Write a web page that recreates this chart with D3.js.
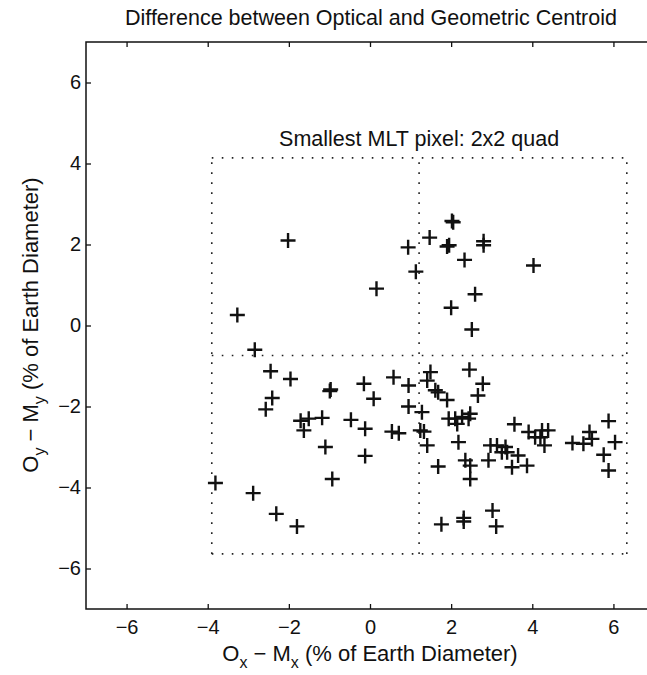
<!DOCTYPE html>
<html><head><meta charset="utf-8">
<script src="https://cdn.jsdelivr.net/npm/d3@7"></script>
<style>body{margin:0;background:#fff}svg{display:block}text{font-family:"Liberation Sans",Arial,sans-serif;fill:#111}</style>
</head><body>
<svg id="c" width="647" height="675"></svg>
<script>
const xVals = [-2.02,-3.27,-2.84,0.16,0.94,1.13,1.47,2.02,2.05,1.90,1.95,2.33,2.80,2.80,4.03,2.59,2.00,2.51,
 -2.45,-1.96,-0.99,-0.97,-2.41,-2.57,-1.71,-1.51,-1.63,-1.18,-0.47,-0.15,-0.12,-1.10,-0.93,-3.81,-2.88,-2.31,-1.80,-0.12,
 0.09,0.58,0.95,0.95,0.54,0.71,1.24,1.28,1.49,1.41,1.61,1.68,1.90,2.45,2.78,2.66,1.94,2.10,2.27,2.43,2.47,2.15,1.41,2.18,2.97,3.13,
 1.68,2.35,2.47,2.47,2.92,3.25,1.76,2.31,2.31,3.02,3.11,3.56,3.91,4.07,4.24,4.39,4.30,4.20,3.34,3.38,3.65,3.50,3.87,
 4.99,5.26,5.41,5.47,5.88,6.04,5.76,5.88,1.33];
const yVals = [2.10,0.26,-0.60,0.91,1.93,1.33,2.17,2.58,2.55,1.95,1.98,1.62,2.08,1.98,1.48,0.77,0.44,-0.10,
 -1.13,-1.32,-1.62,-1.58,-1.79,-2.07,-2.35,-2.30,-2.59,-2.28,-2.33,-1.44,-2.55,-3.00,-3.79,-3.89,-4.14,-4.65,-4.96,-3.22,
 -1.81,-1.28,-1.48,-2.00,-2.62,-2.66,-2.59,-2.14,-1.15,-1.36,-1.60,-1.65,-1.84,-1.09,-1.44,-1.73,-2.30,-2.30,-2.26,-2.30,-2.18,-2.43,-2.96,-2.88,-2.96,-2.96,
 -3.48,-3.33,-3.46,-3.79,-3.33,-3.13,-4.91,-4.75,-4.84,-4.57,-4.96,-2.44,-2.63,-2.76,-2.59,-2.59,-2.96,-2.76,-3.00,-3.13,-3.21,-3.50,-3.46,
 -2.90,-2.92,-2.63,-2.80,-2.36,-2.88,-3.19,-3.58,-2.62];
const xTicks = [-6,-4,-2,0,2,4,6];
const yTicks = [-6,-4,-2,0,2,4,6];
const boxX = [-3.9, 6.33];
const boxY = [-5.64, 4.14];
const centre = [1.21, -0.74];
const titleText = "Difference between Optical and Geometric Centroid";
const boxLabel = "Smallest MLT pixel: 2x2 quad";

const svg = d3.select("#c");
const L=86,R=654,T=42,B=609;
const x = d3.scaleLinear().domain([-7,7]).range([L,R]);
const y = d3.scaleLinear().domain([-7,7]).range([B,T]);

// frame
svg.append("rect").attr("x",L).attr("y",T).attr("width",R-L).attr("height",B-T)
  .attr("fill","none").attr("stroke","#111").attr("stroke-width",1.5);

const fmt = d=>d<0?"\u2212"+(-d):d;
const gx = svg.append("g").attr("transform",`translate(0,${B})`)
  .call(d3.axisBottom(x).tickValues(xTicks).tickSize(-5).tickPadding(11).tickFormat(fmt));
const gxt = svg.append("g").attr("transform",`translate(0,${T})`)
  .call(d3.axisTop(x).tickValues(xTicks).tickSize(-5).tickFormat(""));
const gy = svg.append("g").attr("transform",`translate(${L},0)`)
  .call(d3.axisLeft(y).tickValues(yTicks).tickSize(-5).tickPadding(5).tickFormat(fmt));
const gyr = svg.append("g").attr("transform",`translate(${R},0)`)
  .call(d3.axisRight(y).tickValues(yTicks).tickSize(-5).tickFormat(""));
[gx,gxt,gy,gyr].forEach(g=>{
  g.select(".domain").remove();
  g.selectAll("line").attr("stroke","#111").attr("stroke-width",1.3);
  g.selectAll("text").attr("font-size",20).attr("font-family","Liberation Sans, Arial, sans-serif").attr("fill","#111");
});
gx.selectAll("text").attr("dy","0.71em");

// dotted box and centre lines
const dot = {stroke:"#222","stroke-width":1.6,"stroke-dasharray":"1.6,8.4",fill:"none"};
function dline(x1,y1,x2,y2){
  const l = svg.append("line").attr("x1",x(x1)).attr("y1",y(y1)).attr("x2",x(x2)).attr("y2",y(y2));
  Object.entries(dot).forEach(([k,v])=>l.attr(k,v));
}
dline(boxX[0],boxY[1],boxX[1],boxY[1]);
dline(boxX[0],boxY[0],boxX[1],boxY[0]);
dline(boxX[0],boxY[0],boxX[0],boxY[1]);
dline(boxX[1],boxY[0],boxX[1],boxY[1]);
dline(centre[0],boxY[0],centre[0],boxY[1]);
dline(boxX[0],centre[1],boxX[1],centre[1]);

// points
const pts = xVals.map((v,i)=>[v,yVals[i]]);
const s = 7.5;
svg.append("g").selectAll("path").data(pts).join("path")
  .attr("d",d=>{const px=x(d[0]),py=y(d[1]);return `M${px-s},${py}H${px+s}M${px},${py-s}V${py+s}`;})
  .attr("stroke","#111").attr("stroke-width",2.4).attr("fill","none");

// texts
svg.append("text").attr("x",371).attr("y",25).attr("text-anchor","middle").attr("font-size",21.5).text(titleText);
svg.append("text").attr("x",x(centre[0])).attr("y",146).attr("text-anchor","middle").attr("font-size",21.5).text(boxLabel);

const xl = svg.append("text").attr("x",370).attr("y",661).attr("text-anchor","middle").attr("font-size",22);
xl.append("tspan").text("O");
xl.append("tspan").attr("font-size",16).attr("dy",7).text("x");
xl.append("tspan").attr("dy",-7).text(" \u2212 M");
xl.append("tspan").attr("font-size",16).attr("dy",7).text("x");
xl.append("tspan").attr("dy",-7).text(" (% of Earth Diameter)");

const yl = svg.append("text").attr("transform","translate(38,325) rotate(-90)").attr("text-anchor","middle").attr("font-size",22);
yl.append("tspan").text("O");
yl.append("tspan").attr("font-size",16).attr("dy",7).text("y");
yl.append("tspan").attr("dy",-7).text(" \u2212 M");
yl.append("tspan").attr("font-size",16).attr("dy",7).text("y");
yl.append("tspan").attr("dy",-7).text(" (% of Earth Diameter)");
</script>
</body></html>
